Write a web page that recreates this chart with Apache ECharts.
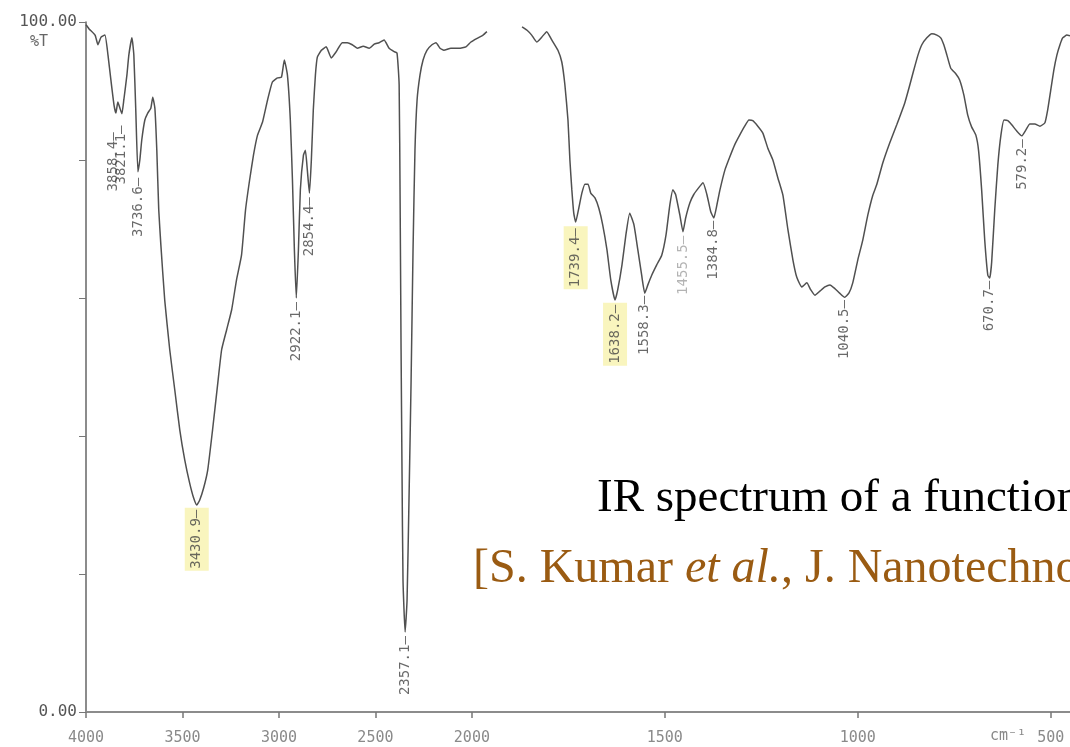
<!DOCTYPE html>
<html>
<head>
<meta charset="utf-8">
<script src="https://cdn.jsdelivr.net/npm/echarts@6/dist/echarts.min.js"></script>
<style>
html,body{margin:0;padding:0;background:#fff;}
#chart{width:1070px;height:747px;}
</style>
</head>
<body>
<div id="chart"></div>
<script>
// Wavenumbers (cm-1) and %T; null marks the paper gap
const WAVENUMBER = [4000,3984,3953,3938,3922,3902,3886,3871,3855,3845,3835,3824,3814,3804,3788,3778,3762,3752,3742,3731,3721,3711,3695,3680,3664,3654,3643,3633,3623,3612,3592,3566,3540,3514,3488,3463,3442,3426,3411,3390,3369,3344,3318,3297,3271,3245,3220,3194,3173,3152,3132,3111,3085,3059,3034,3008,2987,2972,2956,2941,2930,2920,2910,2899,2889,2873,2863,2853,2842,2832,2822,2811,2801,2780,2755,2729,2703,2672,2646,2620,2594,2563,2532,2506,2481,2455,2429,2403,2388,2377,2372,2367,2362,2357,2346,2336,2326,2315,2305,2295,2284,2269,2253,2233,2207,2186,2165,2145,2109,2067,2031,2005,1984,1971,1961,1915,1870,1857,1845,1832,1819,1806,1793,1777,1767,1759,1751,1746,1741,1736,1731,1723,1715,1707,1699,1692,1681,1671,1661,1650,1640,1629,1622,1611,1601,1591,1580,1570,1560,1552,1544,1534,1521,1508,1497,1487,1479,1472,1461,1453,1446,1435,1425,1412,1401,1391,1381,1373,1365,1357,1344,1332,1319,1306,1293,1282,1272,1259,1246,1233,1220,1207,1194,1181,1168,1158,1145,1132,1122,1111,1098,1085,1072,1060,1047,1034,1023,1013,1000,987,974,961,951,935,917,899,878,865,855,844,834,821,808,795,785,777,769,759,746,736,725,715,705,694,687,679,671,663,658,653,645,637,629,621,611,601,588,575,565,554,541,528,515,508,500,492,484,476,469,458,450];
const TRANSMITTANCE = [99.6,99.0,98.1,96.7,97.8,98.1,95.2,91.6,88.0,86.8,88.4,87.5,86.7,88.7,92.3,95.2,97.7,95.2,87.2,78.3,80.0,82.9,85.8,86.8,87.5,89.1,87.5,81.4,72.8,67.7,59.7,52.5,46.7,40.9,36.5,33.2,31.0,30.0,30.7,32.5,35.1,40.9,47.4,52.5,55.4,58.3,62.6,66.2,72.8,77.1,80.7,83.6,85.5,88.7,91.3,91.9,92.0,94.5,92.3,85.8,77.1,67.0,60.0,67.0,75.7,80.7,81.4,78.6,75.2,80.0,87.2,92.3,94.9,95.9,96.4,94.8,95.7,97.0,97.0,96.7,96.2,96.5,96.2,96.8,97.0,97.4,96.2,95.7,95.5,90.9,74.2,52.5,34.5,19.1,11.6,16.2,30.7,48.1,67.0,81.4,88.7,92.3,94.5,95.9,96.7,97.0,96.2,95.9,96.2,96.2,96.4,97.1,97.7,98.1,98.6,null,99.3,98.8,98.1,97.1,97.8,98.6,97.4,95.9,94.2,90.9,85.8,80.0,75.7,72.3,71.0,73.0,75.2,76.5,76.5,75.2,74.5,73.0,70.6,67.0,62.6,59.7,61.2,64.8,69.1,72.3,70.6,67.0,63.3,60.7,61.9,63.3,64.8,66.2,69.1,73.5,75.7,75.0,72.0,69.6,71.6,73.8,75.0,76.0,76.7,75.0,72.5,71.6,73.5,75.7,78.6,80.4,82.2,83.6,84.9,85.8,85.7,84.9,83.9,81.7,80.0,77.4,74.9,69.9,65.5,63.0,61.6,62.2,61.2,60.4,61.0,61.6,61.9,61.4,60.7,60.1,60.7,62.2,65.5,68.4,72.0,74.9,76.4,79.6,82.5,85.1,88.3,90.9,93.0,95.2,96.7,97.7,98.3,98.1,97.7,96.7,95.2,93.3,92.5,91.6,89.4,86.5,84.8,83.6,81.4,75.7,68.4,63.3,62.9,65.2,72.8,79.3,83.6,85.8,85.7,85.1,84.2,83.5,84.3,85.2,85.2,84.9,85.4,87.2,90.1,93.0,95.2,96.7,97.7,98.1,98.0];

// Peak annotations: text, where the marker sits (wavenumber, %T), highlight flag
const PEAK_TEXT = ["3858.4","3821.1","3736.6","3430.9","2922.1","2854.4","2357.1","1739.4","1638.2","1558.3","1455.5","1384.8","1040.5","670.7","579.2"];
const PEAK_WN   = [3860,3819,3731,3426,2910,2842,2346,1731,1629,1552,1453,1373,1034,660,573];
const PEAK_T    = [84.0,85.0,77.4,29.6,59.4,74.6,11.0,70.4,59.3,60.3,69.0,71.2,59.7,62.5,83.0];
const PEAK_HIGHLIGHT = [0,0,0,1,0,0,0,1,1,0,0,0,0,0,0];

// Axis tick labels (cm-1) and y ticks
const X_TICKS = [4000,3500,3000,2500,2000,1500,1000,500];
const Y_TICKS = [0,20,40,60,80,100];

// The instrument's chart paper doubles its scale below 2000 cm-1
function toU(w){ return w >= 2000 ? 4000 - w : 2000 + (2000 - w) * 2; }
function fromU(u){ return u <= 2000 ? 4000 - u : 2000 - (u - 2000) / 2; }

const lineData = WAVENUMBER.map((w, i) => TRANSMITTANCE[i] === null ? [toU(w), '-'] : [toU(w), TRANSMITTANCE[i]]);

const peakData = PEAK_TEXT.map((t, i) => {
  const item = { value: [toU(PEAK_WN[i]), PEAK_T[i]], name: t };
  if (PEAK_HIGHLIGHT[i]) {
    item.label = { backgroundColor: '#f7f2ae', padding: [5, 2, 5, 2] };
  }
  if (t === '1455.5') item.label = { color: '#a0a0a0' };
  return item;
});

const chart = echarts.init(document.getElementById('chart'), null, { renderer: 'canvas' });
chart.setOption({
  animation: false,
  backgroundColor: '#ffffff',
  grid: { left: 86, top: 22, right: 0, height: 690, containLabel: false },
  xAxis: {
    type: 'value', min: 0, max: 5100,
    axisLine: { show: true, onZero: false, lineStyle: { color: '#8c8c8c', width: 2 } },
    axisTick: { show: true, length: 6, customValues: X_TICKS.map(toU), lineStyle: { color: '#777', width: 1.5 } },
    axisLabel: {
      customValues: X_TICKS.map(toU),
      formatter: v => String(Math.round(fromU(v))),
      margin: 19, color: '#8a8a8a', fontFamily: 'DejaVu Sans Mono', fontSize: 15
    },
    splitLine: { show: false }
  },
  yAxis: {
    type: 'value', min: 0, max: 100, interval: 20,
    axisLine: { show: true, lineStyle: { color: '#666', width: 1.5 } },
    axisTick: { show: true, length: 7, lineStyle: { color: '#777' } },
    axisLabel: {
      formatter: v => v === 100 ? '100.00' : (v === 0 ? '0.00' : ''),
      margin: 9, color: '#555', fontFamily: 'DejaVu Sans Mono', fontSize: 16
    },
    splitLine: { show: false }
  },
  series: [
    {
      type: 'line', data: lineData, showSymbol: false, connectNulls: false,
      lineStyle: { color: '#505050', width: 1.5 }, smooth: 0.15, clip: true
    },
    {
      type: 'scatter', data: peakData, symbolSize: 0, silent: true,
      label: {
        show: true, position: 'inside', rotate: 90, align: 'right', verticalAlign: 'middle',
        formatter: p => p.name + '\u2014',
        color: '#444', fontFamily: 'DejaVu Sans Mono', fontSize: 14
      }
    }
  ],
  graphic: [
    { type: 'text', left: 30, top: 35, style: { text: '%T', fill: '#666', font: '15px "DejaVu Sans Mono"' } },
    { type: 'text', left: 990, top: 729, style: { text: 'cm\u207B\u00B9', fill: '#888', font: '15px "DejaVu Sans Mono"' } },
    { type: 'text', left: 597, top: 475, style: { text: 'IR spectrum of a functionalized', fill: '#000', font: '47px "Liberation Serif"' } },
    { type: 'text', left: 473, top: 545, style: {
        text: '{a|[S. Kumar }{b|et al.}{a|, J. Nanotechnol.}',
        rich: {
          a: { fill: '#9a5b12', font: '48px "Liberation Serif"' },
          b: { fill: '#9a5b12', font: 'italic 48px "Liberation Serif"' }
        }
      } }
  ]
});
</script>
</body>
</html>
